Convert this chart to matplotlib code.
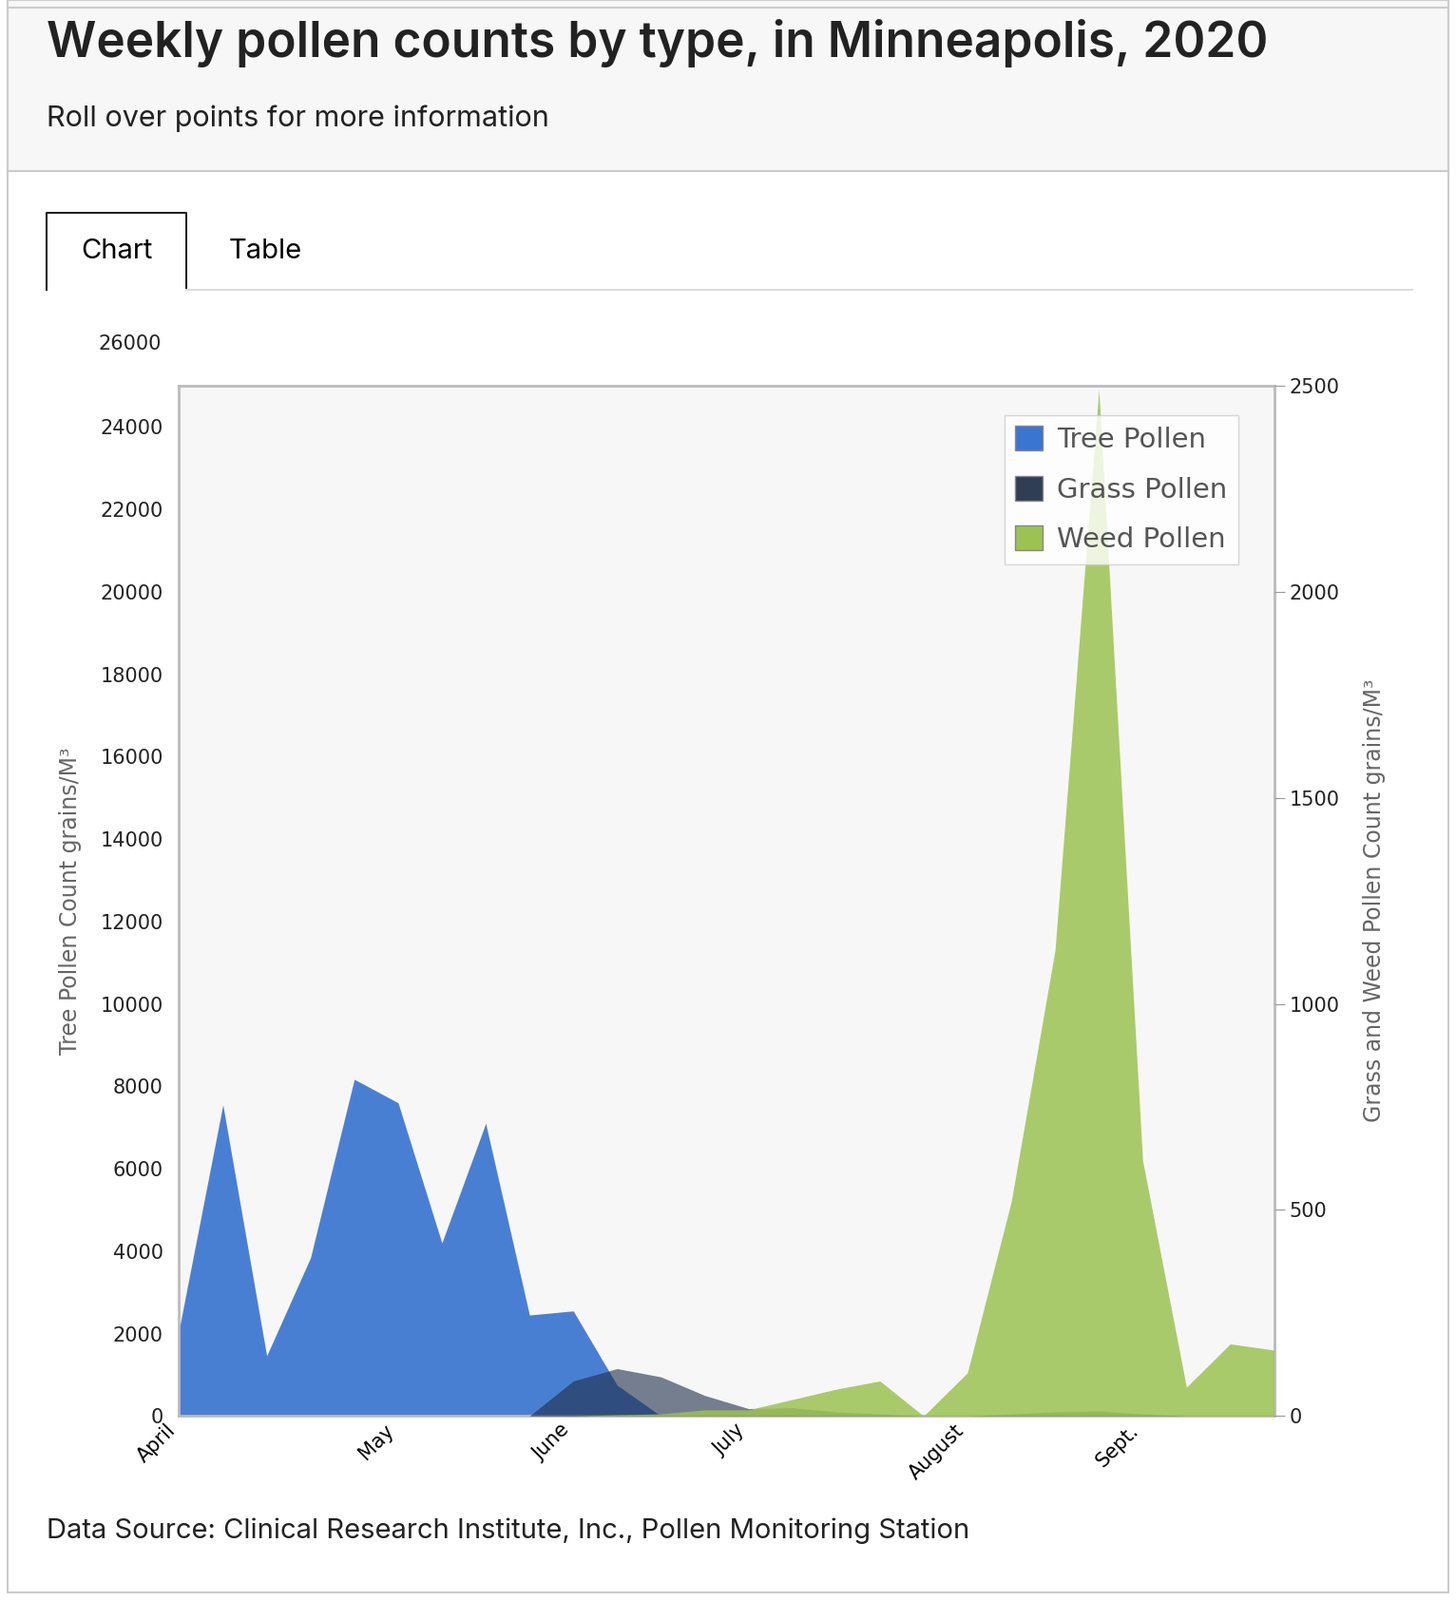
import matplotlib.pyplot as plt
from matplotlib.patches import Rectangle
import numpy as np

# weekly values, April 1 .. end of Sept
tree = [2100, 7550, 1460, 3840, 8170, 7600, 4200, 7100, 2450, 2550, 750, 0, 0,
        0, 0, 0, 0, 0, 0, 0, 0, 0, 0, 0, 0, 0]
grass = [0, 0, 0, 0, 0, 0, 0, 0, 0, 85, 115, 95, 50, 18, 20, 10, 5, 0, 0, 5,
         10, 12, 5, 0, 0, 0]
weed = [0, 0, 0, 0, 0, 0, 0, 0, 0, 0, 3, 5, 15, 15, 40, 65, 85, 0, 105, 520,
        1130, 2490, 620, 70, 175, 160]
month_pos = [0, 5, 9, 13, 18, 22]
month_labels = ["April", "May", "June", "July", "August", "Sept."]

fig = plt.figure(figsize=(15.32, 16.84), dpi=100)
fig.patch.set_facecolor("white")

# page chrome
fig.patches.append(Rectangle((0.005, 0.893), 0.99, 0.107, transform=fig.transFigure,
                             facecolor="#f7f7f7", edgecolor="#cccccc", lw=1.5))
fig.patches.append(Rectangle((0.005, 0.005), 0.99, 0.99, transform=fig.transFigure,
                             facecolor="none", edgecolor="#cccccc", lw=1.5))
fig.text(0.032, 0.973, "Weekly pollen counts by type, in Minneapolis, 2020",
         fontsize=37, color="#222222", va="center", family="Inter", weight="semibold")
fig.text(0.032, 0.926, "Roll over points for more information", fontsize=22,
         color="#222222", va="center", family="Inter")
# tab outline without bottom edge
fig.lines.append(plt.Line2D([0.032, 0.032, 0.128, 0.128], [0.819, 0.867, 0.867, 0.819],
                            transform=fig.transFigure, color="#222222", lw=1.5))
fig.lines.append(plt.Line2D([0.128, 0.97], [0.819, 0.819], transform=fig.transFigure,
                            color="#dddddd", lw=1.5))
fig.text(0.08, 0.843, "Chart", fontsize=21, ha="center", va="center", family="Inter")
fig.text(0.182, 0.843, "Table", fontsize=21, ha="center", va="center", family="Inter")
fig.text(0.032, 0.043, "Data Source: Clinical Research Institute, Inc., Pollen Monitoring Station",
         fontsize=21, color="#222222", va="center", family="Inter")

ax = fig.add_axes([0.123, 0.115, 0.752, 0.644])
ax.set_facecolor("#f7f7f7")
x = np.arange(len(tree))
ax.fill_between(x, tree, color="#3a75d0", alpha=0.92, lw=0)
ax.set_xlim(0, len(tree) - 1)
ax.set_ylim(0, 25000)
ax.set_yticks(range(0, 25000, 2000))
ax.text(-0.4, 26000, "26000", ha="right", va="center", fontsize=15, color="#222222",
        clip_on=False)
ax.set_ylabel("Tree Pollen Count grains/M³", fontsize=17, color="#666666", labelpad=14)
ax.set_xticks(month_pos)
ax.set_xticklabels(month_labels, rotation=45, ha="right", fontsize=15)
ax.tick_params(axis="y", labelsize=15, colors="#222222", length=0, pad=12)
ax.tick_params(axis="x", length=0)
for s in ax.spines.values():
    s.set_color("#bbbbbb")
    s.set_linewidth(2)

ax2 = ax.twinx()
ax2.fill_between(x, grass, color="#1f2d48", alpha=0.6, lw=0)
ax2.fill_between(x, weed, color="#9cc251", alpha=0.85, lw=0)
ax2.set_ylim(0, 2500)
ax2.set_yticks(range(0, 2501, 500))
ax2.tick_params(axis="y", labelsize=15, colors="#222222", length=8, color="#999999")
ax2.set_ylabel("Grass and Weed Pollen Count grains/M³", fontsize=17, color="#666666",
               labelpad=18)
for s in ax2.spines.values():
    s.set_visible(False)

handles = [Rectangle((0, 0), 1, 1, fc=c, ec="#888888") for c in ["#3a75d0", "#2f3d55", "#9cc251"]]
leg = ax2.legend(handles, ["Tree Pollen", "Grass Pollen", "Weed Pollen"], loc="upper right",
                 bbox_to_anchor=(0.98, 0.985), fontsize=21, frameon=True, fancybox=False,
                 labelspacing=0.8, handlelength=1.0, handleheight=1.0, handletextpad=0.5,
                 borderpad=0.4)
leg.get_frame().set_edgecolor("#cccccc")
for t in leg.get_texts():
    t.set_color("#555555")

fig.savefig("out.png", dpi=100)
